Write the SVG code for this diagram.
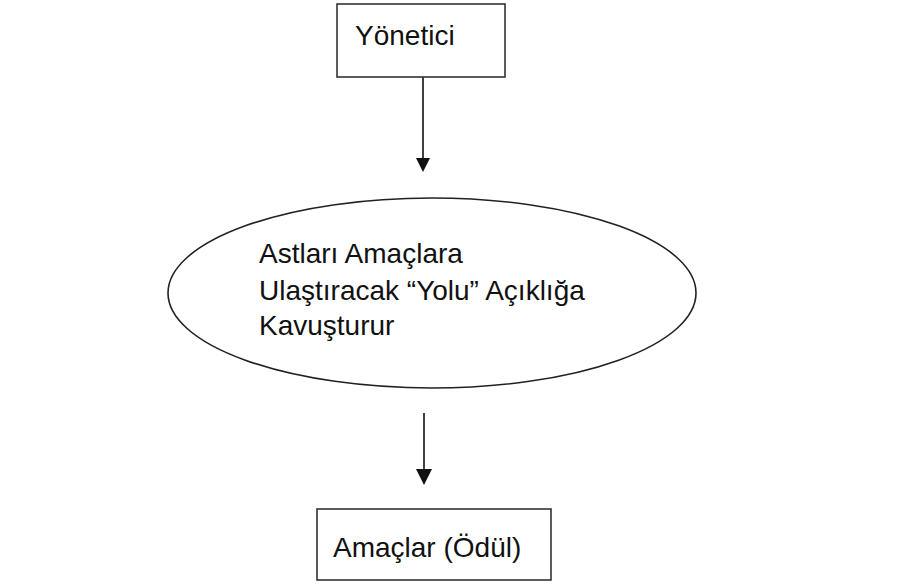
<svg xmlns="http://www.w3.org/2000/svg" width="915" height="586" viewBox="0 0 915 586">
<style>
.box{fill:#fff;stroke:#333;stroke-width:1.6}
.ell{fill:#fff;stroke:#222;stroke-width:1.6}
.t{font-family:"Liberation Sans",Arial,sans-serif;font-size:28px;fill:#111}
.c{stroke:#111;stroke-width:1.6;fill:none}
</style>
<defs>
<marker id="ah" markerWidth="10" markerHeight="10" refX="9" refY="5" orient="auto" markerUnits="userSpaceOnUse" viewBox="0 0 10 10">
<path d="M0,0 L10,5 L0,10 z" fill="#111"/>
</marker>
</defs>
<rect width="915" height="586" fill="#fff"/>
<g id="connectors">
<path class="c" d="M423,77 L423,158"/>
<path d="M416,158 L430,158 L423,172 z" fill="#111"/>
<path class="c" d="M424,413 L424,469"/>
<path d="M416,469 L432,469 L424,485 z" fill="#111"/>
</g>
<g id="yonetici">
<rect class="box" x="337" y="4" width="168" height="73"/>
<text class="t" x="355" y="45">Yönetici</text>
</g>
<g id="yol">
<ellipse class="ell" cx="432" cy="293" rx="264" ry="95"/>
<text class="t" x="259" y="263">Astları Amaçlara</text>
<text class="t" x="259" y="300">Ulaştıracak “Yolu” Açıklığa</text>
<text class="t" x="259" y="335">Kavuşturur</text>
</g>
<g id="amaclar">
<rect class="box" x="317" y="509" width="234" height="71"/>
<text class="t" x="333" y="557">Amaçlar (Ödül)</text>
</g>
</svg>
